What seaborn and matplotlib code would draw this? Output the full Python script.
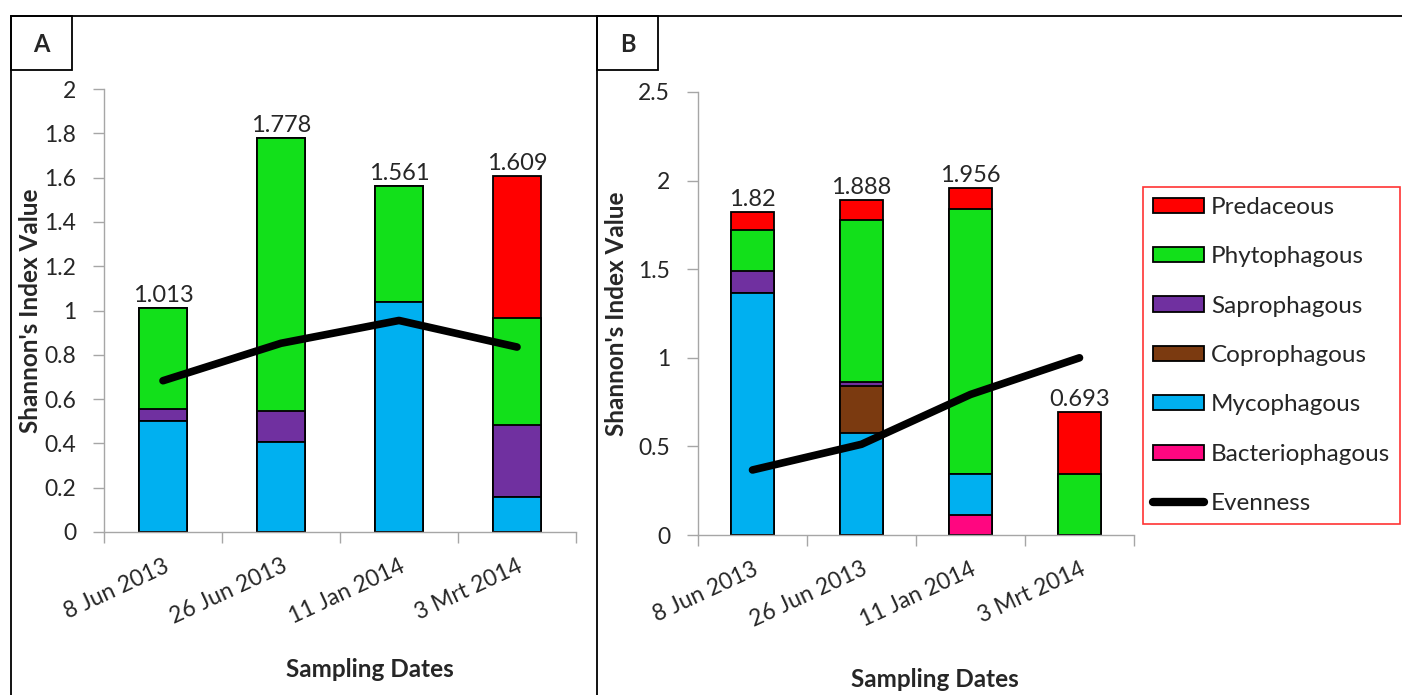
import numpy as np
import matplotlib
matplotlib.use("Agg")
import matplotlib.pyplot as plt
from matplotlib.patches import Patch, Rectangle
from matplotlib.lines import Line2D
from matplotlib.ticker import FuncFormatter
import seaborn as sns

sns.set_style("white")
plt.rcParams["font.family"] = ["Lato", "DejaVu Sans"]

# ---- data -------------------------------------------------------------
dates = ["8 Jun 2013", "26 Jun 2013", "11 Jan 2014", "3 Mrt 2014"]

groups = ["Bacteriophagous", "Mycophagous", "Coprophagous",
          "Saprophagous", "Phytophagous", "Predaceous"]
colors = {
    "Predaceous": "#FF0000",
    "Phytophagous": "#12E01A",
    "Saprophagous": "#7030A0",
    "Coprophagous": "#7B3A10",
    "Mycophagous": "#00B0F0",
    "Bacteriophagous": "#FF0680",
}

# Panel A: Shannon index contribution per trophic group (bottom to top)
a_bacterio = [0.000, 0.000, 0.000, 0.000]
a_myco     = [0.502, 0.406, 1.040, 0.159]
a_copro    = [0.000, 0.000, 0.000, 0.000]
a_sapro    = [0.053, 0.140, 0.000, 0.322]
a_phyto    = [0.458, 1.232, 0.521, 0.484]
a_pred     = [0.000, 0.000, 0.000, 0.644]
a_total    = [1.013, 1.778, 1.561, 1.609]
a_even     = [0.683, 0.852, 0.955, 0.835]

# Panel B
b_bacterio = [0.000, 0.000, 0.113, 0.000]
b_myco     = [1.366, 0.576, 0.232, 0.000]
b_copro    = [0.000, 0.264, 0.000, 0.000]
b_sapro    = [0.124, 0.023, 0.000, 0.000]
b_phyto    = [0.230, 0.912, 1.495, 0.346]
b_pred     = [0.100, 0.113, 0.116, 0.347]
b_total    = [1.820, 1.888, 1.956, 0.693]
b_even     = [0.367, 0.512, 0.793, 1.000]

yticks_a = [0, 0.2, 0.4, 0.6, 0.8, 1.0, 1.2, 1.4, 1.6, 1.8, 2.0]
yticks_b = [0, 0.5, 1.0, 1.5, 2.0, 2.5]

# ---- figure -------------------------------------------------------------
W, H = 1402, 695
fig = plt.figure(figsize=(W / 100, H / 100), dpi=100)


def fx(px):
    return px / W


def fy(py):
    return 1 - py / H


axA = fig.add_axes([fx(104), fy(532), fx(576) - fx(104), fy(89) - fy(532)])
axB = fig.add_axes([fx(698), fy(535), fx(1134) - fx(698), fy(92) - fy(535)])

GREY = "#A6A6A6"
TICK_FS = 16.5
VALUE_FS = 17
LABEL_FS = 17.5


def draw_panel(ax, stacks, totals, even, yticks, ylab_x, xlab_pos):
    layers = [np.array(s, dtype=float) for s in stacks]
    cums = np.cumsum(layers, axis=0)
    # draw cumulative heights from the top layer downwards
    for name, cum in reversed(list(zip(groups, cums))):
        sns.barplot(x=dates, y=cum, color=colors[name], saturation=1,
                    width=0.4, edgecolor="black", linewidth=1.3, ax=ax,
                    order=dates)
    pos = np.arange(len(dates))
    sns.lineplot(x=pos, y=even, color="black", linewidth=5.5, ax=ax,
                 solid_capstyle="round", solid_joinstyle="round", zorder=5)
    for p, t in zip(pos, totals):
        ax.annotate(f"{t:g}", (p, t), xytext=(0, 1.5), textcoords="offset points",
                    ha="center", va="bottom", fontsize=VALUE_FS)

    ax.set_xlim(-0.5, len(dates) - 0.5)
    ax.set_ylim(yticks[0], yticks[-1])
    ax.set_yticks(yticks)
    ax.yaxis.set_major_formatter(FuncFormatter(lambda v, _: f"{v:g}"))
    ax.set_xticks(pos)
    ax.set_xticklabels(dates, rotation=25, ha="right", va="top",
                       rotation_mode="anchor", fontsize=TICK_FS)
    ax.set_xticks(np.arange(-0.5, len(dates), 1), minor=True)
    ax.tick_params(axis="x", which="major", length=0, pad=17)
    ax.tick_params(axis="x", which="minor", length=8, color=GREY, width=1,
                   direction="out", bottom=True)
    ax.tick_params(axis="y", length=8, color=GREY, width=1, direction="out",
                   left=True, pad=12, labelsize=TICK_FS)
    for side in ("top", "right"):
        ax.spines[side].set_visible(False)
    for side in ("left", "bottom"):
        ax.spines[side].set_color(GREY)
        ax.spines[side].set_linewidth(1)
    ax.set_ylabel("Shannon's Index Value", fontsize=LABEL_FS, fontweight="bold")
    ax.yaxis.set_label_coords(ylab_x, 0.5)
    ax.set_xlabel("Sampling Dates", fontsize=LABEL_FS, fontweight="bold",
                  va="center")
    ax.xaxis.set_label_coords(*xlab_pos)
    ax.grid(False)


draw_panel(axA, [a_bacterio, a_myco, a_copro, a_sapro, a_phyto, a_pred],
           a_total, a_even, yticks_a, -0.131, (0.564, -0.311))
draw_panel(axB, [b_bacterio, b_myco, b_copro, b_sapro, b_phyto, b_pred],
           b_total, b_even, yticks_b, -0.161, (0.544, -0.327))

# ---- panel frames and letters -------------------------------------------
frame_kw = dict(color="black", linewidth=1.3, transform=fig.transFigure)
fig.add_artist(Line2D([fx(11), 1], [fy(16), fy(16)], **frame_kw))
fig.add_artist(Line2D([fx(11), fx(11)], [fy(16), 0], **frame_kw))
fig.add_artist(Line2D([fx(597), fx(597)], [fy(16), 0], **frame_kw))

for x0, x1, letter in [(11, 72, "A"), (597, 658, "B")]:
    fig.add_artist(Rectangle((fx(x0), fy(70)), fx(x1) - fx(x0), fy(16) - fy(70),
                             transform=fig.transFigure, fill=False,
                             edgecolor="black", linewidth=1.3))
    fig.text(fx((x0 + x1) / 2), fy(44), letter, ha="center", va="center",
             fontsize=17, fontweight="bold")

# ---- legend ---------------------------------------------------------------
legend_order = ["Predaceous", "Phytophagous", "Saprophagous",
                "Coprophagous", "Mycophagous", "Bacteriophagous"]
handles = [Patch(facecolor=colors[g], edgecolor="black", linewidth=1.3)
           for g in legend_order]
handles.append(Line2D([0], [0], color="black", linewidth=6,
                      solid_capstyle="round"))
labels = legend_order + ["Evenness"]
leg = fig.legend(handles, labels, loc="upper left",
                 bbox_to_anchor=(fx(1143), fy(187)), borderaxespad=0,
                 frameon=True, fancybox=False, fontsize=17.5,
                 handlelength=2.1, handleheight=0.58, handletextpad=0.3,
                 labelspacing=1.17, borderpad=0.4)
leg.get_frame().set_edgecolor("red")
leg.get_frame().set_linewidth(1.2)

fig.savefig("out.png", dpi=100)
